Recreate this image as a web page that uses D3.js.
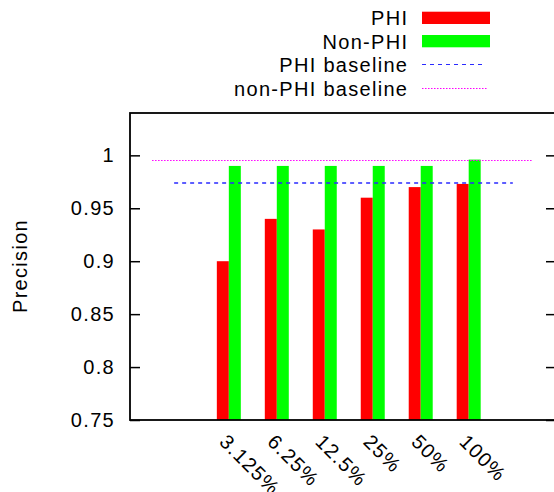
<!DOCTYPE html>
<html>
<head>
<meta charset="utf-8">
<script src="https://cdn.jsdelivr.net/npm/d3@7"></script>
<style>
  html, body { margin: 0; padding: 0; background: #fff; }
  svg { display: block; }
  text { font-family: "Liberation Sans", Arial, Helvetica, sans-serif; font-size: 20px; letter-spacing: 1.3px; fill: #000; }
</style>
</head>
<body>
<div id="chart"></div>
<script>
// ---- data ----
const categories = ["3.125%", "6.25%", "12.5%", "25%", "50%", "100%"];
const phiValues = [0.900, 0.940, 0.930, 0.960, 0.970, 0.973];
const nonPhiValues = [0.990, 0.990, 0.990, 0.990, 0.990, 0.996];
const phiBaseline = 0.974;
const nonPhiBaseline = 0.996;
const phiBaselineRange = [-1.14, 5.92];
const nonPhiBaselineRange = [-1.6, 6.32];
const yTicks = [0.75, 0.8, 0.85, 0.9, 0.95, 1];
const seriesNames = ["PHI", "Non-PHI", "PHI baseline", "non-PHI baseline"];

// ---- layout ----
const W = 554, H = 492;
const mLeft = 130, mRight = 556, mTop = 113, mBottom = 420;

const svg = d3.select("#chart").append("svg").attr("width", W).attr("height", H);

const x = d3.scaleLinear().domain([-2.06, 6.82]).range([mLeft, mRight]);
const y = d3.scaleLinear().domain([0.75, 1.04]).range([mBottom, mTop]);
const barW = 0.25;
const crisp = v => Math.round(v) + 0.5;

// bars
const g = svg.append("g");
g.selectAll("rect.phi").data(phiValues).join("rect")
  .attr("class", "phi")
  .attr("x", (d, i) => x(i - barW))
  .attr("width", (d, i) => x(i) - x(i - barW))
  .attr("y", d => y(d))
  .attr("height", d => y(0.75) - y(d))
  .attr("fill", "#ff0000");
g.selectAll("rect.nonphi").data(nonPhiValues).join("rect")
  .attr("class", "nonphi")
  .attr("x", (d, i) => x(i))
  .attr("width", (d, i) => x(i + barW) - x(i))
  .attr("y", d => y(d))
  .attr("height", d => y(0.75) - y(d))
  .attr("fill", "#00ff00");

// baselines
svg.append("line")
  .attr("x1", x(phiBaselineRange[0])).attr("x2", x(phiBaselineRange[1]))
  .attr("y1", Math.round(y(phiBaseline))).attr("y2", Math.round(y(phiBaseline)))
  .attr("stroke", "#2a2aff").attr("stroke-width", 1.6).attr("stroke-dasharray", "4,4");
svg.append("line")
  .attr("x1", x(nonPhiBaselineRange[0])).attr("x2", x(nonPhiBaselineRange[1]))
  .attr("y1", crisp(y(nonPhiBaseline))).attr("y2", crisp(y(nonPhiBaseline)))
  .attr("stroke", "#ff00ff").attr("stroke-width", 1.2).attr("stroke-dasharray", "1.5,1.5");

// axes
const yAxisL = d3.axisLeft(y).tickValues(yTicks).tickSize(-10).tickPadding(15)
  .tickFormat(d => String(d));
const gl = svg.append("g").attr("transform", `translate(${mLeft},0)`).call(yAxisL);
gl.select(".domain").remove();
gl.selectAll("line").attr("stroke", "#000").attr("stroke-width", 1.5);
gl.selectAll("text").style("font-size", "20px").style("font-family", "Liberation Sans, Arial, sans-serif").attr("fill", "#000");

const yAxisR = d3.axisRight(y).tickValues(yTicks).tickSize(-10).tickFormat("");
const gr = svg.append("g").attr("transform", `translate(${mRight},0)`).call(yAxisR);
gr.select(".domain").remove();
gr.selectAll("line").attr("stroke", "#000").attr("stroke-width", 1.5);

// frame
svg.append("rect")
  .attr("x", mLeft).attr("y", mTop)
  .attr("width", mRight - mLeft).attr("height", mBottom - mTop)
  .attr("fill", "none").attr("stroke", "#000").attr("stroke-width", 1.8);

// x labels
svg.selectAll("text.xl").data(categories).join("text")
  .attr("class", "xl")
  .attr("transform", (d, i) => `translate(${x(i) - 10.5},443) rotate(45)`)
  .attr("text-anchor", "start")
  .text(d => d);

// y title
svg.append("text")
  .attr("transform", `translate(27,266) rotate(-90)`)
  .attr("text-anchor", "middle")
  .text("Precision");

// legend
const legX = 407, sampleX1 = 422, sampleX2 = 490;
const rowBase = [25, 48.5, 72, 95.5];
const leg = svg.append("g");
seriesNames.forEach((name, i) => {
  leg.append("text").attr("x", legX + 1.3).attr("y", rowBase[i]).attr("text-anchor", "end").text(name);
});
leg.append("rect").attr("x", sampleX1).attr("y", 11.7).attr("width", sampleX2 - sampleX1).attr("height", 12.3).attr("fill", "#ff0000");
leg.append("rect").attr("x", sampleX1).attr("y", 35).attr("width", sampleX2 - sampleX1).attr("height", 12.3).attr("fill", "#00ff00");
leg.append("line").attr("x1", sampleX1).attr("x2", 486).attr("y1", 64.5).attr("y2", 64.5)
  .attr("stroke", "#2a2aff").attr("stroke-width", 1.2).attr("stroke-dasharray", "4,4");
leg.append("line").attr("x1", sampleX1).attr("x2", 488).attr("y1", 88.5).attr("y2", 88.5)
  .attr("stroke", "#ff00ff").attr("stroke-width", 1.2).attr("stroke-dasharray", "1.5,1.5");
</script>
</body>
</html>
